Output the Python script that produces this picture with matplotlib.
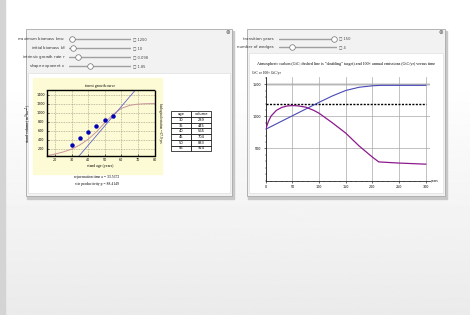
import numpy as np
import matplotlib
matplotlib.use("Agg")
import matplotlib.pyplot as plt
from matplotlib.patches import Rectangle

# ---- data ----
ages = [30, 35, 40, 45, 50, 55]
volumes = [289, 445, 565, 704, 833, 924]

curve_ages = [15, 20, 25, 30, 35, 40, 45, 50, 55, 60, 65, 70, 75, 80]
curve_vals = [45, 83, 130, 190, 285, 410, 575, 775, 960, 1092, 1160, 1188, 1197, 1200]

tangent_ages = [33.5672, 68.5]
tangent_vals = [0, 1500]

years = [0, 25, 50, 75, 100, 125, 150, 175, 200, 215, 250, 300]
carbon = [800, 905, 1010, 1115, 1220, 1320, 1405, 1455, 1478, 1485, 1485, 1485]

em_years = [0, 5, 10, 20, 30, 40, 50, 60, 75, 90, 100, 125, 150, 175, 200, 212, 250, 300]
emissions = [800, 920, 1005, 1095, 1140, 1163, 1170, 1165, 1145, 1095, 1050, 900, 740, 540, 365, 290, 272, 255]
doubling_target = 1200

left_sliders = ["maximum biomass $b_{max}$", "initial biomass $b_0$",
                "intrinsic growth rate $r$", "shape exponent $\\nu$"]
left_values = [1200, 10, 0.098, 1.85]
left_ranges = [(1000, 5000), (5, 90), (0.05, 0.4), (1, 3.5)]

right_sliders = ["transition years", "number of wedges"]
right_values = [150, 4]
right_ranges = [(50, 155), (1, 14)]

W, H = 470, 315
fig = plt.figure(figsize=(W / 100, H / 100), dpi=100)


def box(x0, y0, x1, y1):
    # pixel box (top-left origin) -> figure fraction rect
    return [x0 / W, 1 - y1 / H, (x1 - x0) / W, (y1 - y0) / H]


def rect(x0, y0, x1, y1, **kw):
    fig.patches.append(Rectangle((x0 / W, 1 - y1 / H), (x1 - x0) / W, (y1 - y0) / H,
                                 transform=fig.transFigure, **kw))


def ftext(x, y, s, **kw):
    kw.setdefault("zorder", 6)
    fig.text(x / W, 1 - y / H, s, **kw)


# background gradient
bg = fig.add_axes([0, 0, 1, 1])
grad = np.linspace(0, 1, 200)[:, None]
grad = np.clip((grad - 0.25) / 0.75, 0, 1)
bg.imshow(1 - 0.08 * grad, cmap="gray", vmin=0, vmax=1, aspect="auto", extent=[0, 1, 0, 1])
bg.axis("off")
rect(0, 0, 5, 315, color="#d4d4d4", zorder=1)

# panels
for (x0, x1, ctrl_bottom) in [(25.7, 232.3, 72.7), (246.7, 445, 53.3)]:
    rect(x0 + 1.5, 31, x1 + 1.5, 198.5, color="#c8c8c8", zorder=1)
    rect(x0, 29.3, x1, 196, facecolor="#f2f2f2", edgecolor="#a8a8a8", lw=0.6, zorder=2)
    rect(x0 + 2.5, ctrl_bottom, x1 - 2.5, 193, facecolor="white", edgecolor="#e0e0e0", lw=0.5, zorder=3)
    ftext(x1 - 4.5, 32.7, "\u2297", fontsize=4, color="#555555", ha="center", va="center")


def slider(x_label, x0, x1, y, label, value, rng):
    ftext(x_label, y, label, fontsize=2.8, ha="right", va="center", color="#333333")
    sa = fig.add_axes(box(x0, y - 3, x1, y + 3))
    sa.set_zorder(6)
    sa.patch.set_alpha(0)
    sa.set_xlim(rng[0], rng[1])
    sa.set_ylim(-1, 1)
    sa.axis("off")
    sa.plot([rng[0], rng[1]], [0, 0], color="#a0a0a0", lw=1.0, solid_capstyle="round")
    sa.scatter([value], [0], s=16, facecolor="white", edgecolor="#707070", lw=0.5, zorder=3)
    ftext(x1 + 2, y, "\u25a1 " + "{:g}".format(value), fontsize=2.6, va="center", color="#444444")


for i, (lab, v, rg) in enumerate(zip(left_sliders, left_values, left_ranges)):
    slider(66, 69, 131, 39 + i * 9, lab, v, rg)
for i, (lab, v, rg) in enumerate(zip(right_sliders, right_values, right_ranges)):
    slider(274, 279, 337, 38.7 + i * 8.6, lab, v, rg)

# ---- left chart ----
rect(33, 78, 162, 174, color="#fdfbd6", zorder=3)
ax = fig.add_axes(box(46.7, 90, 154.5, 156))
ax.set_zorder(5)
ax.set_facecolor("#fdfbd6")
ax.plot(curve_ages, curve_vals, color="#c9939b", lw=0.7)
ax.plot(tangent_ages, tangent_vals, color="#6464c8", lw=0.6)
ax.plot(ages, volumes, "o", color="#0000b4", ms=2.2)
ax.set_xlim(15, 80)
ax.set_ylim(40, 1500)
ax.set_xticks(range(20, 81, 10))
ax.set_yticks(range(200, 1401, 200))
ax.grid(True, linestyle=(0, (1.5, 1.5)), color="#8a8470", lw=0.4)
ax.set_axisbelow(True)
for sp in ax.spines.values():
    sp.set_linestyle((0, (1, 1)))
    sp.set_linewidth(1.0)
ax.tick_params(labelsize=2.4, length=1.5, width=0.4, direction="in", pad=1.5)
ax.set_xlabel("stand age (years)", fontsize=2.8, labelpad=1.5, family="Liberation Serif")
ax.set_ylabel("stand volume (m$^3$ ha$^{-1}$)", fontsize=2.8, labelpad=1.5, family="Liberation Serif")
ax.set_title("forest growth curve", fontsize=2.8, pad=2, family="Liberation Serif")
ftext(160, 123, "biological rotation = 67.9 yrs", fontsize=2.4, rotation=-90,
      ha="center", va="center", family="Liberation Serif")

tab_ax = fig.add_axes(box(170.7, 111.3, 211.3, 151.3))
tab_ax.set_zorder(6)
tab_ax.axis("off")
tbl = tab_ax.table(cellText=[[str(a), str(v)] for a, v in zip(ages, volumes)],
                   colLabels=["age", "volume"], bbox=[0, 0, 1, 1], cellLoc="center")
tbl.auto_set_font_size(False)
tbl.set_fontsize(2.6)
for c in tbl.get_celld().values():
    c.set_linewidth(0.5)

ftext(97, 176.8, "rejuvenation time a = 33.5672", fontsize=2.7, ha="center", va="center",
      family="Liberation Serif")
ftext(97, 183.8, "site productivity p = 88.4149", fontsize=2.7, ha="center", va="center",
      family="Liberation Serif")

# ---- right chart ----
ax2 = fig.add_axes(box(265.7, 76.7, 430, 180.5))
ax2.set_zorder(5)
ax2.set_facecolor("white")
ax2.set_xlim(0, 308)
ax2.set_ylim(0, 1620)
ax2.set_xticks(range(0, 301, 50))
ax2.set_yticks([500, 1000, 1500])
ax2.set_xticks(range(0, 301, 10), minor=True)
ax2.set_yticks(range(0, 1601, 100), minor=True)
ax2.grid(True, which="major", color="#a8a8a8", lw=0.5)
ax2.axhline(1500, color="#dadada", lw=2.0, zorder=1)
ax2.plot([0, 300], [doubling_target] * 2, color="black", lw=1.0, linestyle=(0, (1.5, 1)), zorder=3)
ax2.plot(years, carbon, color="#4848b8", lw=0.8, zorder=4)
ax2.plot(em_years, emissions, color="#8c1a8c", lw=0.9, zorder=4)
ax2.spines["top"].set_visible(False)
ax2.spines["right"].set_visible(False)
for s in ["left", "bottom"]:
    ax2.spines[s].set_linewidth(0.5)
ax2.tick_params(labelsize=2.4, length=1.5, width=0.4, pad=1.5)
ax2.tick_params(which="minor", length=0.8, width=0.3)
ftext(435, 181, "years", fontsize=2.6, ha="center", va="center", family="Liberation Serif")
ftext(252, 73.3, "GtC or 100\u00d7 GtC/yr", fontsize=2.6, ha="left", va="center",
      family="Liberation Serif")
ftext(346, 64.3, "Atmospheric carbon (GtC; dashed line is \u201cdoubling\u201d target) and 100\u00d7 annual "
      "emissions (GtC/yr) versus time", fontsize=3.0, ha="center", va="center",
      family="Liberation Serif")

fig.savefig("out.png", dpi=100)
